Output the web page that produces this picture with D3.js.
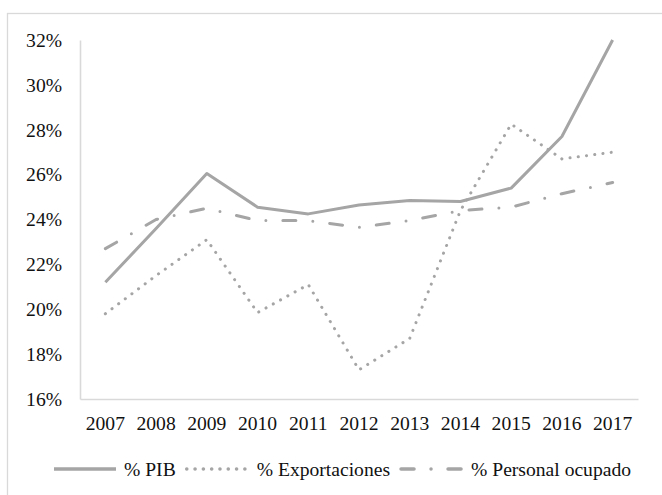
<!DOCTYPE html>
<html>
<head>
<meta charset="utf-8">
<script src="https://cdn.jsdelivr.net/npm/d3@7"></script>
<style>
  html, body { margin: 0; padding: 0; background: #fff; }
  svg { display: block; font-family: "Liberation Serif", "Times New Roman", serif; }
</style>
</head>
<body>
<svg id="chart"></svg>
<script>
// data
const years = ['2007','2008','2009','2010','2011','2012','2013','2014','2015','2016','2017'];
const pib = [21.2, 23.6, 26.05, 24.55, 24.25, 24.65, 24.85, 24.8, 25.4, 27.7, 32.0];
const exportaciones = [19.8, 21.5, 23.1, 19.85, 21.1, 17.3, 18.7, 24.4, 28.25, 26.7, 27.0];
const personal = [22.7, 24.0, 24.5, 23.95, 23.95, 23.65, 23.95, 24.4, 24.55, 25.15, 25.65];
const yTicks = [16, 18, 20, 22, 24, 26, 28, 30, 32];
const seriesNames = ['% PIB', '% Exportaciones', '% Personal ocupado'];

const w = 662, h = 495;
const grey = '#a5a5a5';
const svg = d3.select('#chart').attr('width', w).attr('height', h);

// outer chart border (cut by the picture edge)
svg.append('rect')
  .attr('x', 7.5).attr('y', 13.5)
  .attr('width', 700).attr('height', 520)
  .attr('fill', 'none').attr('stroke', '#d9d9d9').attr('stroke-width', 1.3);

// scales
const xScale = d3.scaleBand().domain(years).range([80, 638]);
const yScale = d3.scaleLinear().domain([16, 32]).range([399, 40]);

// axes
const xAxis = d3.axisBottom(xScale).tickSize(0).tickSizeOuter(0).tickPadding(17.5);
const yAxis = d3.axisLeft(yScale).tickValues(yTicks).tickSize(0).tickSizeOuter(0)
  .tickPadding(18).tickFormat(d => d + '%');

const gx = svg.append('g').attr('transform', 'translate(0,399)').call(xAxis);
const gy = svg.append('g').attr('transform', 'translate(80,0)').call(yAxis);

[gx, gy].forEach(g => {
  g.select('.domain').attr('stroke', '#d9d9d9').attr('stroke-width', 1.6);
  g.selectAll('text').attr('fill', '#111').style('font-size', '19.6px')
    .style('font-family', '"Liberation Serif", "Times New Roman", serif');
});

// lines
const series = [
  { name: seriesNames[0], values: pib, dash: null, cap: 'butt' },
  { name: seriesNames[1], values: exportaciones, dash: '0.1,8.2', cap: 'round' },
  { name: seriesNames[2], values: personal, dash: '13,17,0,17', cap: 'round' }
];

const generateLine = d3.line()
  .x((d, i) => xScale(years[i]) + xScale.bandwidth() / 2)
  .y(d => yScale(d))
  .curve(d3.curveLinear);

svg.selectAll('.series')
  .data(series)
  .join('path')
  .attr('class', 'series')
  .attr('d', d => generateLine(d.values))
  .attr('fill', 'none')
  .attr('stroke', grey)
  .attr('stroke-width', 3)
  .attr('stroke-linecap', d => d.cap)
  .attr('stroke-linejoin', 'round')
  .attr('stroke-dasharray', d => d.dash);

// legend
const legend = svg.append('g').attr('transform', 'translate(0,469)');
let lx = 54;
series.forEach(s => {
  legend.append('line')
    .attr('x1', lx).attr('x2', lx + 62)
    .attr('y1', 0).attr('y2', 0)
    .attr('stroke', grey).attr('stroke-width', 3.5)
    .attr('stroke-linecap', s.cap)
    .attr('stroke-dasharray', s.dash);
  const t = legend.append('text')
    .attr('x', lx + 70).attr('y', 6.5)
    .attr('fill', '#111')
    .style('font-size', '19.6px')
    .text(s.name);
  lx += 70 + t.node().getComputedTextLength() + 11;
});
</script>
</body>
</html>
